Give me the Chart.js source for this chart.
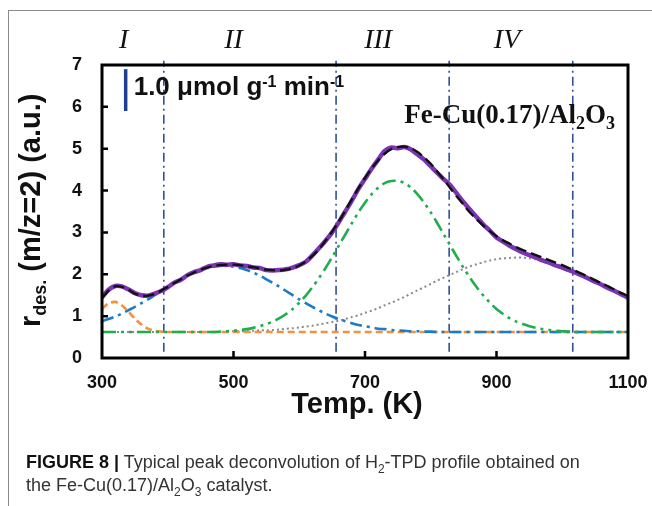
<!DOCTYPE html>
<html>
<head>
<meta charset="utf-8">
<script src="https://cdn.jsdelivr.net/npm/chart.js@4.4.1/dist/chart.umd.min.js"></script>
<style>
  html, body { margin: 0; padding: 0; background: #fff; }
  #wrap { position: relative; width: 652px; height: 506px; overflow: hidden; }
  #frame { position: absolute; left: 8px; top: 10px; width: 660px; height: 520px;
           border-top: 1.5px solid #8a8a8a; border-left: 1.5px solid #8a8a8a; }
  canvas { position: absolute; left: 0; top: 0; }
  #caption { position: absolute; left: 26px; top: 451px; font: 18px/23px "Liberation Sans", Arial, sans-serif; color: #333; }
  #caption b { color: #111; }
  #caption sub { font-size: 12px; line-height: 0; }
</style>
</head>
<body>
<div id="wrap">
  <div id="frame"></div>
  <canvas id="tpd" width="652" height="506"></canvas>
  <div id="caption"><b>FIGURE 8 |</b> Typical peak deconvolution of H<sub>2</sub>-TPD profile obtained on<br>the Fe-Cu(0.17)/Al<sub>2</sub>O<sub>3</sub> catalyst.</div>
</div>
<script>
"use strict"

// temperature (K)
const temps = [
  300, 310, 320, 330, 340, 350, 360, 370, 380, 390,
  400, 410, 420, 430, 440, 450, 460, 470, 480, 490,
  500, 510, 520, 530, 540, 550, 560, 570, 580, 590,
  600, 610, 620, 630, 640, 650, 660, 670, 680, 690,
  700, 710, 720, 730, 740, 750, 760, 770, 780, 790,
  800, 810, 820, 830, 840, 850, 860, 870, 880, 890,
  900, 910, 920, 930, 940, 950, 960, 970, 980, 990,
  1000, 1010, 1020, 1030, 1040, 1050, 1060, 1070, 1080, 1090,
  1100
];

// measured H2 desorption rate
const measured = [
  1.45, 1.63, 1.72, 1.71, 1.64, 1.55, 1.50, 1.49, 1.54, 1.60,
  1.69, 1.80, 1.87, 1.98, 2.05, 2.10, 2.18, 2.21, 2.24, 2.23,
  2.24, 2.21, 2.20, 2.16, 2.15, 2.10, 2.09, 2.10, 2.12, 2.16,
  2.22, 2.30, 2.45, 2.62, 2.80, 3.00, 3.24, 3.50, 3.76, 4.04,
  4.28, 4.52, 4.74, 4.95, 5.03, 5.01, 5.04, 4.98, 4.86, 4.74,
  4.58, 4.42, 4.27, 4.12, 3.92, 3.72, 3.54, 3.36, 3.19, 3.04,
  2.88, 2.78, 2.68, 2.60, 2.52, 2.46, 2.40, 2.33, 2.28, 2.21,
  2.16, 2.10, 2.04, 1.97, 1.90, 1.82, 1.75, 1.67, 1.60, 1.52,
  1.44
];

// sum of fitted peaks
const fitted = [
  1.43, 1.61, 1.71, 1.70, 1.63, 1.54, 1.49, 1.49, 1.53, 1.61,
  1.70, 1.79, 1.88, 1.97, 2.04, 2.11, 2.16, 2.20, 2.22, 2.23,
  2.23, 2.22, 2.19, 2.17, 2.14, 2.11, 2.10, 2.09, 2.11, 2.15,
  2.21, 2.31, 2.44, 2.60, 2.80, 3.02, 3.26, 3.52, 3.79, 4.05,
  4.30, 4.53, 4.72, 4.88, 4.99, 5.04, 5.05, 5.01, 4.92, 4.79,
  4.64, 4.45, 4.26, 4.05, 3.85, 3.66, 3.47, 3.31, 3.16, 3.03,
  2.91, 2.81, 2.73, 2.65, 2.58, 2.52, 2.46, 2.40, 2.34, 2.28,
  2.22, 2.15, 2.08, 2.01, 1.94, 1.86, 1.78, 1.71, 1.63, 1.55,
  1.48
];

const peakI = [
  1.18, 1.30, 1.34, 1.26, 1.11, 0.94, 0.80, 0.70, 0.65, 0.63,
  0.62, 0.62, 0.62, 0.62, 0.62, 0.62, 0.62, 0.62, 0.62, 0.62,
  0.62, 0.62, 0.62, 0.62, 0.62, 0.62, 0.62, 0.62, 0.62, 0.62,
  0.62, 0.62, 0.62, 0.62, 0.62, 0.62, 0.62, 0.62, 0.62, 0.62,
  0.62, 0.62, 0.62, 0.62, 0.62, 0.62, 0.62, 0.62, 0.62, 0.62,
  0.62, 0.62, 0.62, 0.62, 0.62, 0.62, 0.62, 0.62, 0.62, 0.62,
  0.62, 0.62, 0.62, 0.62, 0.62, 0.62, 0.62, 0.62, 0.62, 0.62,
  0.62, 0.62, 0.62, 0.62, 0.62, 0.62, 0.62, 0.62, 0.62, 0.62,
  0.62
];

const peakII = [
  0.88, 0.93, 0.99, 1.06, 1.14, 1.22, 1.31, 1.40, 1.50, 1.60,
  1.70, 1.79, 1.88, 1.97, 2.04, 2.10, 2.15, 2.18, 2.20, 2.20,
  2.18, 2.15, 2.10, 2.04, 1.97, 1.88, 1.79, 1.70, 1.60, 1.50,
  1.40, 1.31, 1.22, 1.14, 1.06, 0.99, 0.93, 0.88, 0.83, 0.79,
  0.76, 0.73, 0.70, 0.69, 0.67, 0.66, 0.65, 0.64, 0.64, 0.63,
  0.63, 0.62, 0.62, 0.62, 0.62, 0.62, 0.62, 0.62, 0.62, 0.62,
  0.62, 0.62, 0.62, 0.62, 0.62, 0.62, 0.62, 0.62, 0.62, 0.62,
  0.62, 0.62, 0.62, 0.62, 0.62, 0.62, 0.62, 0.62, 0.62, 0.62,
  0.62
];

const peakIII = [
  0.62, 0.62, 0.62, 0.62, 0.62, 0.62, 0.62, 0.62, 0.62, 0.62,
  0.62, 0.62, 0.62, 0.62, 0.62, 0.62, 0.62, 0.62, 0.63, 0.64,
  0.65, 0.67, 0.69, 0.72, 0.76, 0.81, 0.87, 0.95, 1.05, 1.17,
  1.32, 1.49, 1.69, 1.91, 2.15, 2.41, 2.68, 2.95, 3.22, 3.48,
  3.71, 3.91, 4.07, 4.18, 4.23, 4.23, 4.18, 4.07, 3.91, 3.71,
  3.48, 3.22, 2.95, 2.68, 2.41, 2.15, 1.91, 1.69, 1.49, 1.32,
  1.17, 1.05, 0.95, 0.87, 0.81, 0.76, 0.72, 0.69, 0.67, 0.65,
  0.64, 0.63, 0.62, 0.62, 0.62, 0.62, 0.62, 0.62, 0.62, 0.62,
  0.62
];

const peakIV = [
  0.62, 0.62, 0.62, 0.62, 0.62, 0.62, 0.62, 0.62, 0.62, 0.62,
  0.62, 0.62, 0.62, 0.62, 0.62, 0.62, 0.62, 0.62, 0.62, 0.62,
  0.64, 0.64, 0.64, 0.65, 0.66, 0.66, 0.67, 0.68, 0.70, 0.71,
  0.73, 0.75, 0.77, 0.80, 0.83, 0.86, 0.89, 0.93, 0.98, 1.02,
  1.08, 1.13, 1.19, 1.26, 1.32, 1.39, 1.46, 1.54, 1.62, 1.69,
  1.77, 1.85, 1.92, 1.99, 2.06, 2.13, 2.19, 2.24, 2.29, 2.33,
  2.36, 2.38, 2.39, 2.40, 2.40, 2.38, 2.36, 2.33, 2.29, 2.25,
  2.20, 2.14, 2.07, 2.01, 1.93, 1.86, 1.78, 1.71, 1.63, 1.55,
  1.48
];

const regionBounds = [394, 656, 828, 1016];
const regionNames = ['I', 'II', 'III', 'IV'];
const regionNameAt = [333, 500, 720, 916];

const xTicks = [300, 500, 700, 900, 1100];
const yTicks = [0, 1, 2, 3, 4, 5, 6, 7];

// scale bar = 1.0 umol g-1 min-1
const scaleBarAt = 336;
const scaleBarRange = [5.9, 6.9];


const SANS = '"Liberation Sans", Arial, sans-serif';
const SERIF = '"Liberation Serif", "Times New Roman", serif';

const pts = arr => arr.map((v, i) => ({ x: temps[i], y: v }));

function curve(data, color, width, dash) {
    return {
        data: pts(data),
        borderColor: color,
        borderWidth: width,
        borderDash: dash,
        pointRadius: 0,
        tension: 0.3,
        fill: false
    };
}

const datasets = [
    curve(fitted, '#111111', 2.4, [11, 5]),
    curve(measured, '#7a33b3', 4.5, []),
    curve(peakIII, '#1fae4e', 2.6, [14, 5, 3, 5, 3, 5]),
    curve(peakII, '#1c7cc6', 2.6, [12, 5, 3, 5]),
    curve(peakI, '#f5913d', 2.6, [7, 4]),
    curve(peakIV, '#8a8a8a', 2, [2, 3])
];

regionBounds.forEach(b => {
    datasets.push({
        data: [{ x: b, y: 0.15 }, { x: b, y: 7.1 }],
        borderColor: '#2f4f9c',
        borderWidth: 1.6,
        borderDash: [9, 4, 2, 4],
        pointRadius: 0,
        clip: false
    });
});

datasets.push({
    data: [{ x: scaleBarAt, y: scaleBarRange[0] }, { x: scaleBarAt, y: scaleBarRange[1] }],
    borderColor: '#1f3f8f',
    borderWidth: 3.5,
    pointRadius: 0
});


function rich(ctx, x, y, parts) {
    parts.forEach(p => {
        ctx.font = p.font;
        ctx.fillText(p.t, x, y + (p.dy || 0));
        x += ctx.measureText(p.t).width;
    });
    return x;
}

function richWidth(ctx, parts) {
    let w = 0;
    parts.forEach(p => { ctx.font = p.font; w += ctx.measureText(p.t).width; });
    return w;
}

const decor = {
    id: 'decor',
    afterDraw(chart) {
        const { ctx, chartArea: a, scales: { x, y } } = chart;
        ctx.save();

        // plot frame
        ctx.strokeStyle = '#000';
        ctx.lineWidth = 3;
        ctx.strokeRect(a.left, a.top, a.right - a.left, a.bottom - a.top);

        // inward ticks
        ctx.lineWidth = 2.5;
        ctx.beginPath();
        yTicks.slice(1, -1).forEach(v => {
            const py = y.getPixelForValue(v);
            ctx.moveTo(a.left, py);
            ctx.lineTo(a.left + 6, py);
        });
        xTicks.slice(1, -1).forEach(v => {
            const px = x.getPixelForValue(v);
            ctx.moveTo(px, a.bottom);
            ctx.lineTo(px, a.bottom - 7);
        });
        ctx.stroke();

        ctx.fillStyle = '#111';
        ctx.textBaseline = 'alphabetic';

        // region names
        ctx.textAlign = 'center';
        ctx.font = 'italic 28px ' + SERIF;
        regionNames.forEach((n, i) => {
            ctx.fillText(n, x.getPixelForValue(regionNameAt[i]), 48);
        });

        ctx.textAlign = 'left';

        // scale bar label
        const sx = x.getPixelForValue(scaleBarAt) + 8;
        rich(ctx, sx, 95, [
            { t: '1.0 \u03bcmol g', font: 'bold 26px ' + SANS },
            { t: '-1', font: 'bold 16px ' + SANS, dy: -8 },
            { t: ' min', font: 'bold 26px ' + SANS },
            { t: '-1', font: 'bold 16px ' + SANS, dy: -8 }
        ]);

        // sample label
        const sample = [
            { t: 'Fe-Cu(0.17)/Al', font: 'bold 27px ' + SERIF },
            { t: '2', font: 'bold 18px ' + SERIF, dy: 6 },
            { t: 'O', font: 'bold 27px ' + SERIF },
            { t: '3', font: 'bold 18px ' + SERIF, dy: 6 }
        ];
        rich(ctx, a.right - 13 - richWidth(ctx, sample), 123, sample);

        // x title
        ctx.textAlign = 'center';
        ctx.font = 'bold 29px ' + SANS;
        ctx.fillText('Temp. (K)', 357, 413);

        // y title
        ctx.textAlign = 'left';
        ctx.translate(40, 327);
        ctx.rotate(-Math.PI / 2);
        rich(ctx, 0, 0, [
            { t: 'r', font: 'bold 29px ' + SANS },
            { t: 'des.', font: 'bold 18px ' + SANS, dy: 6 },
            { t: ' (m/z=2) (a.u.)', font: 'bold 29px ' + SANS }
        ]);

        ctx.restore();
    }
};

new Chart(document.getElementById('tpd'), {
    type: 'line',
    data: { datasets: datasets },
    options: {
        responsive: false,
        animation: false,
        devicePixelRatio: 1,
        layout: { padding: { top: 65, right: 24, bottom: 0, left: 0 } },
        plugins: { legend: { display: false }, tooltip: { enabled: false } },
        scales: {
            x: {
                type: 'linear',
                min: 300,
                max: 1100,
                afterBuildTicks: s => { s.ticks = xTicks.map(v => ({ value: v })); },
                afterFit: s => { s.height = 148; s.paddingLeft = 0; s.paddingRight = 0; },
                grid: { display: false, drawTicks: false },
                border: { display: false },
                ticks: {
                    color: '#111', padding: 14, maxRotation: 0,
                    callback: v => String(v),
                    font: { family: SANS, size: 18, weight: 'bold' }
                }
            },
            y: {
                min: 0,
                max: 7,
                afterBuildTicks: s => { s.ticks = yTicks.map(v => ({ value: v })); },
                afterFit: s => { s.width = 102; s.paddingTop = 0; s.paddingBottom = 0; },
                grid: { display: false, drawTicks: false },
                border: { display: false },
                ticks: { color: '#111', padding: 20, font: { family: SANS, size: 18, weight: 'bold' } }
            }
        }
    },
    plugins: [decor]
});
</script>
</body>
</html>
